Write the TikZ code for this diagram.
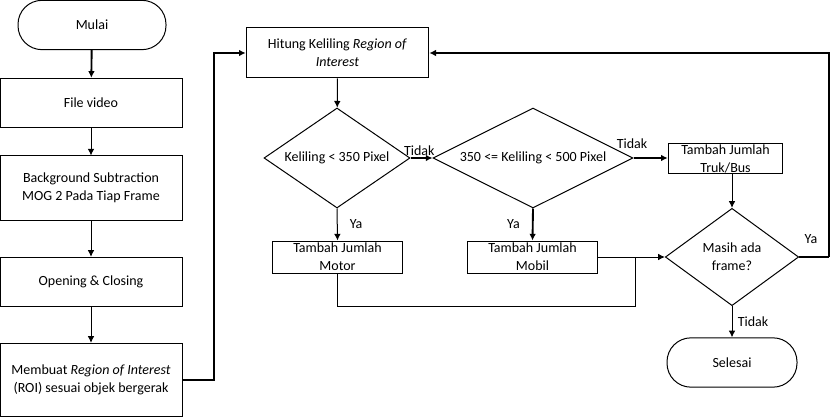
\documentclass[tikz,border=0pt]{standalone}
\usepackage{fontspec}
\setmainfont{Carlito}
\usetikzlibrary{arrows.meta, shapes.geometric}

\tikzset{
  flow/.style={line width=0.75pt, -{Latex[length=5pt,width=5pt]}},
  flowb/.style={line width=1.4pt, -{Latex[length=5pt,width=5pt]}},
  line/.style={line width=0.75pt},
  lineb/.style={line width=1.4pt},
  proses/.style={draw, line width=0.75pt, rectangle, align=center, inner sep=1pt},
  terminal/.style={draw, line width=0.75pt, rectangle, rounded corners=18pt, align=center},
  keputusan/.style={draw, line width=0.75pt, diamond, align=center, inner sep=0pt},
  ket/.style={inner sep=1pt}
}

\begin{document}
\begin{tikzpicture}[x=0.75pt, y=-0.75pt, font=\fontsize{10.5}{13.5}\selectfont]
\useasboundingbox (0,0) rectangle (831,417);
% kolom kiri
\node[terminal, minimum width=111pt, minimum height=37pt] (mulai) at (92,25) {Mulai};
\node[proses, minimum width=136.5pt, minimum height=37pt] (file) at (91,103) {File video};
\node[proses, minimum width=136.5pt, minimum height=48pt] (bgsub) at (91,188) {Background Subtraction\\MOG 2 Pada Tiap Frame};
\node[proses, minimum width=136.5pt, minimum height=37pt] (openclose) at (91,282) {Opening \& Closing};
\node[proses, minimum width=136.5pt, minimum height=55pt] (roi) at (91,380) {Membuat \textit{Region of Interest}\\(ROI) sesuai objek bergerak};
% bagian kanan
\node[proses, minimum width=137pt, minimum height=37.5pt] (hitung) at (337.5,53) {Hitung Keliling \textit{Region of}\\\textit{Interest}};
\node[keputusan, minimum width=109.5pt, minimum height=75pt, shape aspect=1.46] (kel1) at (337,158) {Keliling < 350 Pixel};
\node[keputusan, minimum width=150pt, minimum height=75pt, shape aspect=2] (kel2) at (533,158) {350 <= Keliling < 500 Pixel};
\node[proses, minimum width=86pt, minimum height=23pt] (truk) at (725.5,158.5) {Tambah Jumlah\\Truk/Bus};
\node[proses, minimum width=98pt, minimum height=24pt] (motor) at (337.5,257) {Tambah Jumlah\\Motor};
\node[proses, minimum width=98pt, minimum height=24pt] (mobil) at (532.5,257) {Tambah Jumlah\\Mobil};
\node[keputusan, minimum width=100pt, minimum height=73pt, shape aspect=1.37] (frame) at (732,257) {Masih ada\\frame?};
\node[terminal, minimum width=97.5pt, minimum height=37pt] (selesai) at (732,362.5) {Selesai};
% titik bantu
\coordinate (belokroi) at (214,380);
\coordinate (belokya) at (829,257);
\coordinate (gabung) at (635,306);
% panah kolom kiri
\draw[flowb] (mulai) -- (file);
\draw[flow] (file) -- (bgsub);
\draw[flow] (bgsub) -- (openclose);
\draw[flow] (openclose) -- (roi);
\draw[flowb] (roi.east) -- (belokroi) |- (hitung.west);
% panah kanan
\draw[flow] (hitung) -- (kel1);
\draw[flowb] (kel1.east) -- (kel2.west) node[ket, pos=0.4, above] (tidak1) {Tidak};
\draw[flowb] (kel2.east) -- (truk.west |- kel2.east);
\node[ket, above] (tidak2) at (632,150) {Tidak};
\draw[flow] (kel1.south) -- (motor.north) node[ket, midway, right=8pt] (ya1) {Ya};
\draw[flowb] (kel2.south) -- (mobil.north) node[ket, midway, left=8pt] (ya2) {Ya};
\draw[flow] (frame.north |- truk.south) -- (frame.north);
\draw[flow] (mobil.east) -- (frame.west);
\draw[line] (motor.south) |- (gabung) -- (gabung |- frame.west);
\draw[lineb] (frame.east) -- (belokya);
\draw[flowb] (belokya) |- (hitung.east);
\node[ket] (ya3) at (811,239) {Ya};
\draw[flow] (frame.south) -- (selesai.north) node[ket, midway, right=3pt] (tidak3) {Tidak};
\end{tikzpicture}
\end{document}
